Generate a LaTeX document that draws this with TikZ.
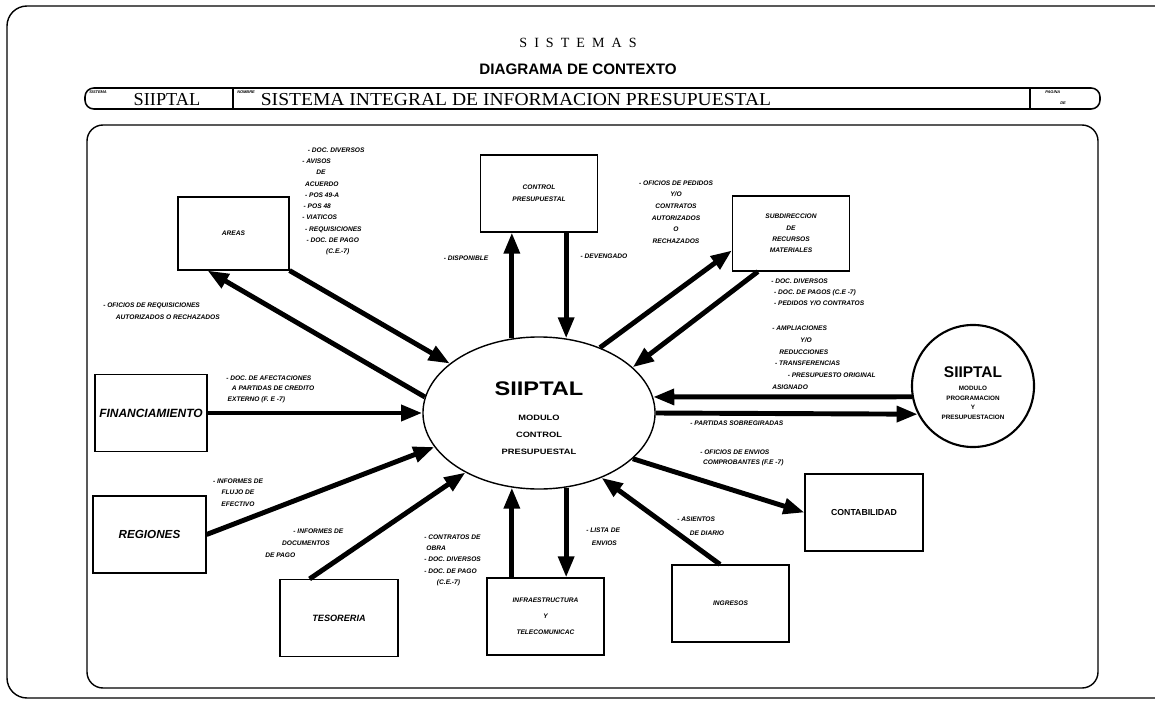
\documentclass[tikz,border=0pt]{standalone}
\usepackage{fontspec}
\setmainfont{Liberation Serif}
\setsansfont{Liberation Sans}
\usetikzlibrary{arrows.meta,shapes.geometric}
\newcommand\lblfont[1][8]{\sffamily\bfseries\itshape\fontsize{4.7}{#1}\selectfont}

\begin{document}
\begin{tikzpicture}[x=0.025cm, y=-0.025cm,
    flow/.style={line width=3.5pt, -{Triangle[length=15pt,width=11pt]}},
    box/.style={draw, line width=0.8pt, minimum width=2.925cm, minimum height=1.925cm, inner sep=1pt, align=center, font=\lblfont},
    lbl/.style={inner sep=0pt, anchor=north west, align=left, font={\lblfont[#1]}},
    lbl/.default=8,
    tag/.style={inner sep=0pt, anchor=north west, font=\sffamily\bfseries\itshape\fontsize{2.8}{3}\selectfont}]

  \clip (0,0) rectangle (1155,701);
  % frames and title block
  \draw[line width=1pt, rounded corners=0.5cm] (7,6) rectangle (1175,698);
  \draw[line width=1pt, rounded corners=0.4cm] (87,125) rectangle (1098,688);
  \draw[line width=1.1pt, rounded corners=0.22cm] (85,88) rectangle (1100,109);
  \draw[line width=0.8pt] (233,88) -- (233,109) (1030,88) -- (1030,109);

  \node (T1) at (578,43) {\fontsize{10}{12}\selectfont S\enspace I\enspace S\enspace T\enspace E\enspace M\enspace A\enspace S};
  \node (T2) at (578,69) {\sffamily\bfseries\fontsize{10.8}{12}\selectfont DIAGRAMA DE CONTEXTO};
  \node[tag] (H1) at (89,90) {SISTEMA};
  \node (H2) at (167,100) {\fontsize{13}{14}\selectfont SIIPTAL};
  \node[tag] (H3) at (237,90) {NOMBRE};
  \node (H4) at (516,100) {\fontsize{13}{14}\selectfont\addfontfeature{FakeStretch=1.07}SISTEMA INTEGRAL DE INFORMACION PRESUPUESTAL};
  \node[tag] (H5) at (1045,90) {PAGINA};
  \node[tag] (H6) at (1060,102) {DE};

  % processes
  \node[ellipse, draw, line width=1pt, minimum width=5.8cm, minimum height=3.8cm, align=center,
        font=\sffamily\bfseries\fontsize{5.5}{12}\selectfont\addfontfeature{FakeStretch=1.2}] (MC) at (539,413)
        {\rule{0pt}{17pt}{\fontsize{14}{14}\selectfont SIIPTAL}\\[6pt] MODULO\\ CONTROL\\ PRESUPUESTAL};
  \node[circle, draw, line width=1.5pt, minimum size=3.05cm, inner sep=0pt, align=center,
        font=\sffamily\bfseries\fontsize{4.5}{7}\selectfont] (MP) at (973,386)
        {\rule{0pt}{18pt}{\fontsize{11}{11}\selectfont SIIPTAL}\\[2pt] MODULO\\ PROGRAMACION\\ Y\\ PRESUPUESTACION};

  % external entities
  \node[box, minimum width=2.775cm, minimum height=1.825cm] (AR) at (233.5,233.5) {AREAS};
  \node[box, font={\lblfont[8.5]}] (CP) at (539,193.5) {CONTROL\\ PRESUPUESTAL};
  \node[box, minimum height=1.875cm] (SRM) at (791,233.5) {SUBDIRECCION\\ DE\\ RECURSOS\\ MATERIALES};
  \node[box, minimum width=2.8cm, font=\sffamily\bfseries\itshape\fontsize{8.5}{10}\selectfont] (FIN) at (151,413) {FINANCIAMIENTO};
  \node[box, minimum width=2.825cm, font=\sffamily\bfseries\itshape\fontsize{8.3}{10}\selectfont] (REG) at (149.5,534.5) {REGIONES};
  \node[box, minimum width=2.95cm, font=\sffamily\bfseries\itshape\fontsize{6.5}{8}\selectfont] (TES) at (339,618) {TESORERIA};
  \node[box, font={\lblfont[11.3]}] (INF) at (545.5,616.5) {INFRAESTRUCTURA\\ Y\\ TELECOMUNICAC};
  \node[box] (ING) at (730.5,603.5) {INGRESOS};
  \node[box, minimum width=2.95cm, font=\sffamily\bfseries\fontsize{6.2}{8}\selectfont] (CON) at (864,512.5) {CONTABILIDAD};

  % data flows
  \path[flow]
    (AR.south east) edge (MC.151)
    (MC.172) edge (AR.235)
    (FIN.east) edge (MC.west)
    (REG.east) edge (MC.198)
    (TES.127) edge (MC.219)
    (MC.250 |- INF.north) edge (MC.250)
    (MC.290) edge (MC.290 |- INF.north)
    (ING.105) edge (MC.314)
    (MC.334) edge (CON.west)
    (MP.190) edge (MC.8)
    (MC.east) edge (MP.207)
    (MC.47) edge (SRM.196)
    (SRM.229) edge (MC.26)
    (MC.110) edge (MC.110 |- CP.south)
    (MC.70 |- CP.south) edge (MC.70);

  % flow labels
  \node[lbl] (LAR) at (302,147.5) {\hspace*{4pt}- DOC. DIVERSOS\\ - AVISOS\\ \hspace*{10pt}DE\\ \hspace*{2pt}ACUERDO\\
    \hspace*{2pt}- POS 49-A\\ \hspace*{1pt}- POS 48\\ - VIATICOS\\ \hspace*{2pt}- REQUISICIONES\\
    \hspace*{3pt}- DOC. DE PAGO\\ \hspace*{17pt}(C.E.-7)};
  \node[lbl=8.5] (LRQ) at (103,302.5) {- OFICIOS DE REQUISICIONES\\ \hspace*{9pt}AUTORIZADOS O RECHAZADOS};
  \node[lbl=7.4] (LFI) at (226,375.5) {- DOC. DE AFECTACIONES\\ \hspace*{4pt}A PARTIDAS DE CREDITO\\ \hspace*{1pt}EXTERNO (F. E -7)};
  \node[lbl=8.2, anchor=center, align=center] (LRE) at (238,492.5) {- INFORMES DE\\ FLUJO DE\\ EFECTIVO};
  \node[lbl=8.5] (LTE) at (265,528.5) {\hspace*{20pt}- INFORMES DE\\ \hspace*{12pt}DOCUMENTOS\\ DE PAGO};
  \node[lbl] (LIN) at (424,534.5) {- CONTRATOS DE\\ \hspace*{1.5pt}OBRA\\ - DOC. DIVERSOS\\ - DOC. DE PAGO\\ \hspace*{9pt}(C.E.-7)};
  \node[lbl=9.2] (LLE) at (586,527.5) {- LISTA DE\\ \hspace*{4pt}ENVIOS};
  \node[lbl=10] (LAS) at (677,516.5) {- ASIENTOS\\ \hspace*{9pt}DE DIARIO};
  \node[lbl=7.1] (LCO) at (700,449.5) {- OFICIOS DE ENVIOS\\ \hspace*{2pt}COMPROBANTES (F.E -7)};
  \node[lbl] (LPS) at (690,420.5) {- PARTIDAS SOBREGIRADAS};
  \node[lbl=8.4] (LMP) at (772,325.5) {- AMPLIACIONES\\ \hspace*{20pt}Y/O\\ \hspace*{5pt}REDUCCIONES\\
    \hspace*{2pt}- TRANSFERENCIAS\\ \hspace*{11pt}- PRESUPUESTO ORIGINAL\\ ASIGNADO};
  \node[lbl=7.8] (LSB) at (771,278.5) {- DOC. DIVERSOS\\ \hspace*{2pt}- DOC. DE PAGOS (C.E -7)\\ \hspace*{2pt}- PEDIDOS Y/O CONTRATOS};
  \node[lbl=8.2, anchor=center, align=center] (LSA) at (676,212) {- OFICIOS DE PEDIDOS\\ Y/O\\ CONTRATOS\\ AUTORIZADOS\\ O\\ RECHAZADOS};
  \node[lbl, anchor=center] (LDI) at (466,258) {- DISPONIBLE};
  \node[lbl, anchor=center] (LDE) at (604,256) {- DEVENGADO};
\end{tikzpicture}
\end{document}
